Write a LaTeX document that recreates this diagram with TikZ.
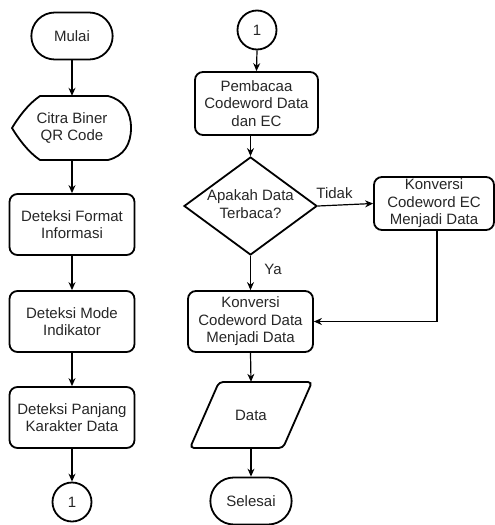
\documentclass[tikz,border=0pt]{standalone}
\usepackage{fontspec}
\setmainfont{Liberation Sans}
\usetikzlibrary{shapes.geometric,shapes.misc,arrows.meta,calc}
\begin{document}
\begin{tikzpicture}[x=1pt,y=-1pt,
  every node/.style={font=\fontsize{15}{17.5}\selectfont, align=center, text=black!85},
  proc/.style={draw, line width=1.8pt, rounded corners=8pt, minimum width=125pt, minimum height=61pt, inner sep=1pt},
  term/.style={draw, line width=1.8pt, rounded rectangle, minimum width=88pt, minimum height=47pt},
  conn/.style={draw, line width=1.8pt, circle, minimum size=39pt, inner sep=0pt},
  dec/.style={draw, line width=1.8pt, diamond, minimum width=133pt, minimum height=98pt, inner sep=0pt},
  arr/.style={line width=1.2pt, -{Stealth[length=8pt,width=7pt]}},
  lbl/.style={font=\fontsize{15}{17.5}\selectfont}
]
\useasboundingbox (0,0) rectangle (495,525);
% left column
\node[term] (mulai) at (72,36) {Mulai};
\node[minimum width=119pt, minimum height=64pt, inner sep=0pt] (citra) at (72,128) {Citra Biner\\QR Code};
\draw[line width=1.8pt, line join=round]
  (40,96) -- (108,96) .. controls (124,100) and (131,112) .. (131,128)
  .. controls (131,144) and (124,156) .. (108,160) -- (40,160)
  .. controls (28,152) and (18,138) .. (12,128)
  .. controls (18,118) and (28,104) .. (40,96) -- cycle;
\node[proc] (format) at (72,224.5) {Deteksi Format\\Informasi};
\node[proc] (mode) at (72,321.5) {Deteksi Mode\\Indikator};
\node[proc] (panjang) at (72,417.5) {Deteksi Panjang\\Karakter Data};
\node[conn] (c1a) at (72,502) {1};
% right column
\node[conn] (c1b) at (257,30) {1};
\node[proc, minimum width=123pt, minimum height=63pt] (baca) at (256.5,103.5) {Pembacaa\\Codeword Data\\dan EC};
\node[dec] (dia) at (250.5,206) {};
\node at (250.5,204) {Apakah Data\\Terbaca?};
\node[proc, minimum width=120pt, minimum height=53pt] (ec) at (434,203.5) {Konversi\\Codeword EC\\Menjadi Data};
\node[proc] (kd) at (250.5,321.5) {Konversi\\Codeword Data\\Menjadi Data};
\node[draw=none, minimum width=122pt, minimum height=66pt] (data) at (251,415) {Data};
\draw[line width=1.8pt, rounded corners=4pt] (219,382) -- (312,382) -- (283,448) -- (190,448) -- cycle;
\node[term] (selesai) at (251,501) {Selesai};
% arrows
\draw[arr] (mulai.south) -- (citra.north);
\draw[arr] (citra.south) -- (format.north);
\draw[arr] (format.south) -- (mode.north);
\draw[arr] (mode.south) -- (panjang.north);
\draw[arr] (panjang.south) -- (c1a.north);
\draw[arr] (c1b.south) -- (baca.north);
\draw[arr] (baca.south -| dia.north) -- (dia.north);
\draw[arr] (dia.east) -- node[lbl, above=3pt, pos=0.3] {Tidak} (ec.west);
\draw[arr] (dia.south) -- node[lbl, right=10pt, pos=0.4] {Ya} (kd.north);
\draw[arr] ([xshift=3pt]ec.south) |- (kd.east);
\draw[arr] (kd.south) -- (data.north);
\draw[arr] (data.south) -- (selesai.north);
\end{tikzpicture}
\end{document}
